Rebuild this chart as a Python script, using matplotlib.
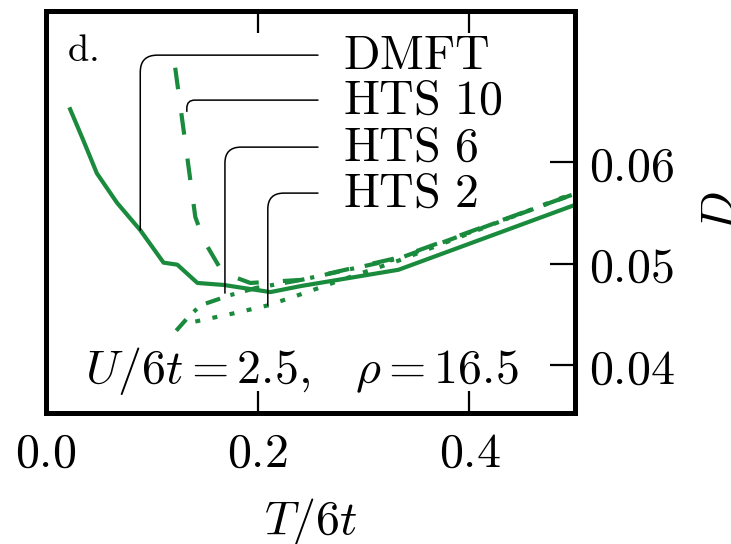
import matplotlib
matplotlib.use("Agg")
import matplotlib.pyplot as plt

plt.rcParams["mathtext.fontset"] = "cm"
plt.rcParams["font.family"] = "serif"

# --- data ---------------------------------------------------------------
T_dmft = [0.022, 0.035, 0.048, 0.067, 0.089, 0.111, 0.124, 0.143, 0.168,
          0.193, 0.212, 0.241, 0.333, 0.5]
D_dmft = [0.0654, 0.0622, 0.0589, 0.0560, 0.0533, 0.0501, 0.0499, 0.0481,
          0.0479, 0.0475, 0.0472, 0.0478, 0.0494, 0.0558]

T_hts10 = [0.122, 0.141, 0.149, 0.167, 0.193, 0.241, 0.333, 0.5]
D_hts10 = [0.0693, 0.0546, 0.0523, 0.0491, 0.0481, 0.0484, 0.0506, 0.0569]

T_hts6 = [0.123, 0.134, 0.146, 0.174, 0.198, 0.241, 0.333, 0.5]
D_hts6 = [0.0434, 0.0447, 0.0459, 0.0469, 0.0476, 0.0484, 0.0505, 0.0569]

T_hts2 = [0.141, 0.177, 0.210, 0.244, 0.279, 0.333, 0.5]
D_hts2 = [0.0443, 0.0451, 0.0459, 0.0471, 0.0484, 0.0503, 0.0570]

labels = ["DMFT", "HTS 10", "HTS 6", "HTS 2"]
# point on each curve that its label points to
label_targets = [(0.089, 0.0533), (0.133, 0.0650), (0.169, 0.0471), (0.2095, 0.0459)]
label_rows = [0.07054, 0.06611, 0.06148, 0.05695]

xticks = [0.0, 0.2, 0.4]
xticklabels = ["0.0", "0.2", "0.4"]
yticks = [0.04, 0.05, 0.06]
yticklabels = ["0.04", "0.05", "0.06"]

# --- figure ---------------------------------------------------------------
green = "#1a8a3c"
fs = 34.5
lw = 3.0

fig = plt.figure(figsize=(7.31, 5.44), dpi=100)
ax = fig.add_axes([0.063, 0.241, 0.724, 0.739])

ax.plot(T_dmft, D_dmft, color=green, lw=lw, ls="-", solid_capstyle="butt")
ax.plot(T_hts10, D_hts10, color=green, lw=lw, ls=(0, (5.2, 5.8)))
ax.plot(T_hts6, D_hts6, color=green, lw=lw, ls=(0, (3.6, 2.6, 1.0, 2.6)))
ax.plot(T_hts2, D_hts2, color=green, lw=lw, ls=(0, (1.2, 3.0)))

ax.set_xlim(0.0, 0.5)
ax.set_ylim(0.0353, 0.0749)

# leader lines with rounded corners
x_line_end = 0.2569
x_text = 0.2806
radii = [17, 8, 16, 16]
for lab, (tx, ty), yr, rad in zip(labels, label_targets, label_rows, radii):
    ax.annotate("", xy=(tx, ty), xytext=(x_line_end, yr),
                arrowprops=dict(arrowstyle="-", color="black", lw=1.1,
                                shrinkA=0, shrinkB=0,
                                connectionstyle=f"angle,angleA=0,angleB=90,rad={rad}"))
    ax.text(x_text, yr, r"$\mathrm{" + lab.replace(" ", r"\ ") + "}$",
            fontsize=fs, ha="left", va="center")

ax.text(0.04, 0.945, r"$\mathrm{d.}$", transform=ax.transAxes,
        fontsize=fs * 0.8, ha="left", va="top")
ax.text(0.037, 0.03822, r"$U/6t=2.5,$", fontsize=fs, ha="left", va="baseline")
ax.text(0.4468, 0.03822, r"$\rho=16.5$", fontsize=fs, ha="right", va="baseline")

# axes styling
for s in ax.spines.values():
    s.set_linewidth(3.6)

ax.set_xticks(xticks)
ax.set_xticklabels([f"${t}$" for t in xticklabels])
ax.set_yticks(yticks)
ax.set_yticklabels([f"${t}$" for t in yticklabels])
ax.yaxis.tick_right()
ax.yaxis.set_label_position("right")
ax.tick_params(axis="x", which="major", direction="in", length=16, width=1.6,
               top=True, bottom=True, labelsize=fs, pad=12)
ax.tick_params(axis="y", which="major", direction="in", length=18, width=1.6,
               left=False, right=True, labelsize=fs, pad=10)

ax.set_xlabel(r"$T/6t$", fontsize=fs, labelpad=14)
ax.set_ylabel(r"$D$", fontsize=fs, labelpad=16, rotation=90)

fig.savefig("out.png", dpi=100)
